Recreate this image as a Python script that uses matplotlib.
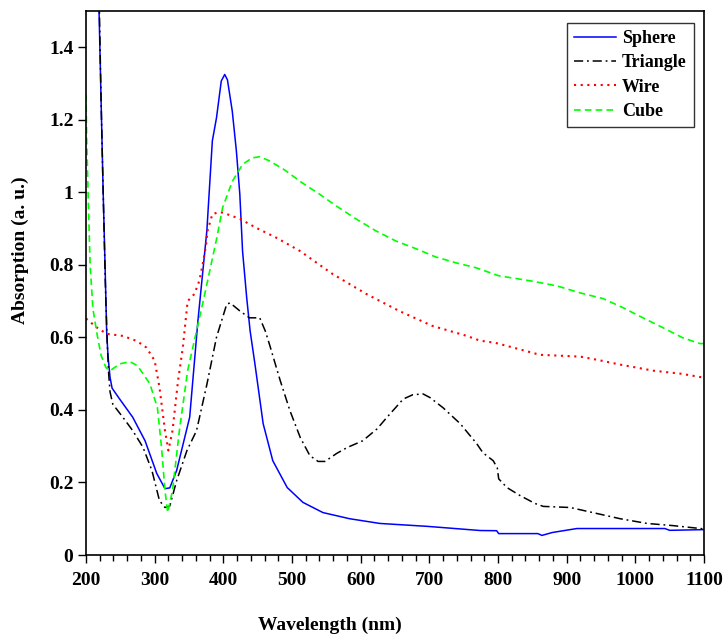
import numpy as np
import matplotlib.pyplot as plt
from matplotlib.ticker import MultipleLocator, FuncFormatter

# Sphere (blue, solid)
sphere_wl = [200, 215, 219, 222, 225, 228, 230, 232, 235, 238, 249, 268, 286, 303, 315, 322,
             332, 351, 363, 376, 384, 390, 397, 402, 406, 413, 419, 424, 428, 434, 439, 446,
             458, 472, 493, 516, 545, 584, 628, 697, 774, 798, 801, 858, 864, 879, 915,
             1043, 1050, 1100]
sphere_abs = [4.0, 1.9, 1.5, 1.25, 1.0, 0.78, 0.62, 0.55, 0.49, 0.46, 0.43, 0.38, 0.315,
              0.225, 0.183, 0.185, 0.233, 0.38, 0.646, 0.894, 1.142, 1.205, 1.307, 1.325,
              1.31, 1.224, 1.114, 0.995, 0.838, 0.71, 0.618, 0.527, 0.362, 0.26, 0.186,
              0.145, 0.117, 0.1, 0.087, 0.079, 0.0675, 0.067, 0.059, 0.059, 0.054, 0.062,
              0.073, 0.073, 0.068, 0.07]

# Triangle (black, dash-dot)
tri_wl = [200, 215, 219.5, 222, 225, 228, 231, 233, 235, 239, 254, 268, 283, 296, 307, 315,
          322, 332, 347, 361, 376, 390, 405, 410, 424, 438, 453, 461, 467, 483, 497, 512,
          526, 538, 548, 565, 580, 603, 624, 638, 662, 676, 691, 701, 720, 745, 769, 778,
          793, 799, 801, 813, 832, 854, 866, 905, 938, 978, 1017, 1055, 1100]
tri_abs = [4.0, 1.9, 1.5, 1.25, 1.0, 0.76, 0.58, 0.5, 0.45, 0.416, 0.379, 0.343, 0.297,
           0.233, 0.15, 0.131, 0.135, 0.205, 0.288, 0.343, 0.47, 0.6, 0.692, 0.695, 0.673,
           0.654, 0.654, 0.618, 0.582, 0.48, 0.398, 0.324, 0.274, 0.258, 0.258, 0.28, 0.296,
           0.315, 0.348, 0.379, 0.43, 0.442, 0.444, 0.434, 0.406, 0.362, 0.307, 0.282, 0.26,
           0.24, 0.21, 0.186, 0.164, 0.142, 0.134, 0.131, 0.117, 0.1, 0.087, 0.081, 0.072]

# Wire (red, dotted)
wire_wl = [200, 216, 230, 254, 274, 288, 300, 307, 315, 320, 326, 334, 341, 348, 358, 365,
           370, 375, 377, 384, 395, 405, 424, 448, 477, 511, 559, 608, 656, 704, 753, 774,
           796, 822, 861, 920, 945, 978, 1027, 1066, 1100]
wire_abs = [0.652, 0.627, 0.61, 0.604, 0.59, 0.572, 0.536, 0.462, 0.343, 0.288, 0.343, 0.48,
            0.572, 0.70, 0.72, 0.756, 0.802, 0.857, 0.894, 0.94, 0.946, 0.94, 0.927, 0.902,
            0.875, 0.839, 0.775, 0.72, 0.673, 0.632, 0.605, 0.591, 0.585, 0.572, 0.552,
            0.547, 0.538, 0.525, 0.508, 0.5, 0.489]

# Cube (green, dashed)
cube_wl = [200, 201, 203, 206, 210, 216, 222, 229, 235, 249, 264, 275, 293, 304, 310, 315,
           319, 326, 336, 348, 361, 373, 390, 399, 413, 428, 442, 453, 467, 489, 515, 540,
           564, 593, 622, 651, 680, 709, 738, 768, 801, 847, 886, 919, 953, 982, 1011, 1040,
           1069, 1094, 1100]
cube_abs = [1.27, 1.15, 1.0, 0.8, 0.68, 0.61, 0.55, 0.517, 0.508, 0.527, 0.533, 0.522,
            0.472, 0.406, 0.297, 0.178, 0.117, 0.178, 0.343, 0.508, 0.618, 0.72, 0.87, 0.958,
            1.03, 1.077, 1.095, 1.098, 1.087, 1.062, 1.026, 0.995, 0.963, 0.927, 0.894, 0.866,
            0.845, 0.822, 0.806, 0.792, 0.77, 0.756, 0.742, 0.723, 0.707, 0.682, 0.654, 0.627,
            0.599, 0.583, 0.583]

plt.rcParams['font.family'] = 'Liberation Serif'
plt.rcParams['font.weight'] = 'bold'

fig = plt.figure(figsize=(7.24, 6.35), dpi=100)
ax = fig.add_axes([86 / 724, 80 / 635, 618 / 724, 544 / 635])

ax.plot(sphere_wl, sphere_abs, color='#0000ff', lw=1.1, label='Sphere')
ax.plot(tri_wl, tri_abs, color='black', lw=1.1, dashes=(6, 2.5, 1.2, 2.5), label='Triangle')
ax.plot(wire_wl, wire_abs, color='#ff0000', lw=1.5, dashes=(1, 2.2), label='Wire')
ax.plot(cube_wl, cube_abs, color='#00ff00', lw=1.2, dashes=(4, 2.5), label='Cube')

ax.set_xlim(200, 1100)
ax.set_ylim(0, 1.5)
ax.xaxis.set_major_locator(MultipleLocator(100))
ax.xaxis.set_minor_locator(MultipleLocator(20))
ax.set_yticks([0, 0.2, 0.4, 0.6, 0.8, 1.0, 1.2, 1.4])
ax.yaxis.set_major_formatter(FuncFormatter(lambda v, p: ('%.1f' % v).rstrip('0').rstrip('.')))
ax.tick_params(axis='both', which='major', direction='out', length=6, width=1,
               labelsize=14)
ax.tick_params(axis='x', which='major', pad=6)
ax.tick_params(axis='y', which='major', pad=3)
ax.tick_params(axis='x', which='minor', direction='out', length=4, width=1)
for s in ax.spines.values():
    s.set_linewidth(1.2)

fig.text(330 / 724, 1 - 625 / 635, 'Wavelength (nm)', ha='center', va='center',
         fontsize=14, fontweight='bold')
fig.text(20 / 724, 1 - 250 / 635, 'Absorption (a. u.)', ha='center', va='center',
         rotation=90, fontsize=14, fontweight='bold')

leg = ax.legend(loc='upper right', fontsize=13, frameon=True, fancybox=False,
                edgecolor='black', handlelength=2.3, handletextpad=0.35, labelspacing=0.4,
                borderpad=0.4, borderaxespad=0)
leg.get_frame().set_linewidth(1.0)
leg.set_bbox_to_anchor((694 / 724, 1 - 23 / 635), transform=fig.transFigure)

fig.savefig('out.png', dpi=100)
